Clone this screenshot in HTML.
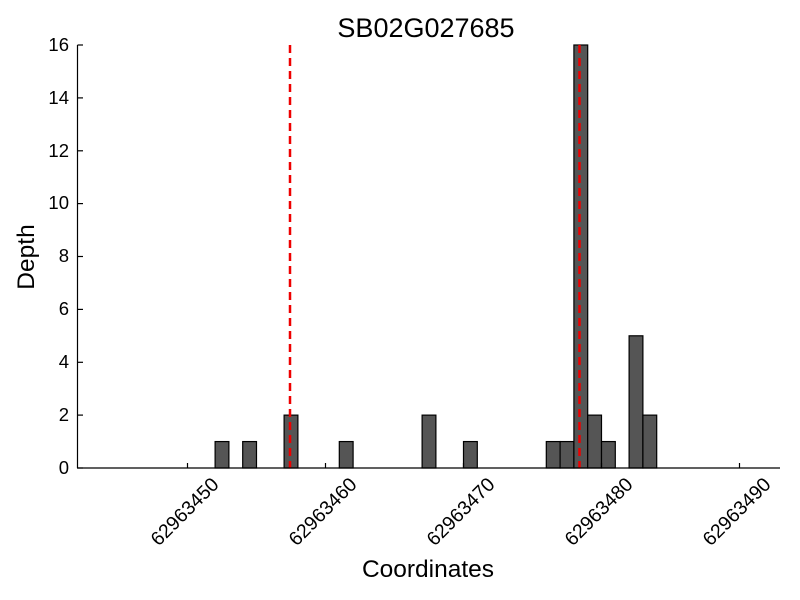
<!DOCTYPE html>
<html><head><style>body{margin:0;background:#fff}svg{display:block}text{font-family:"Liberation Sans",sans-serif;fill:#000}</style></head><body>
<svg width="800" height="600" xmlns="http://www.w3.org/2000/svg">
<rect width="800" height="600" fill="#fff"/>
<g fill="#555" stroke="#000" stroke-width="1.2">
<rect x="215.1" y="441.56" width="13.8" height="26.44"/>
<rect x="242.7" y="441.56" width="13.8" height="26.44"/>
<rect x="284.1" y="415.12" width="13.8" height="52.88"/>
<rect x="339.3" y="441.56" width="13.8" height="26.44"/>
<rect x="422.1" y="415.12" width="13.8" height="52.88"/>
<rect x="463.5" y="441.56" width="13.8" height="26.44"/>
<rect x="546.3" y="441.56" width="13.8" height="26.44"/>
<rect x="560.1" y="441.56" width="13.8" height="26.44"/>
<rect x="573.9" y="45" width="13.8" height="423"/>
<rect x="587.7" y="415.12" width="13.8" height="52.88"/>
<rect x="601.5" y="441.56" width="13.8" height="26.44"/>
<rect x="629.1" y="335.8" width="13.8" height="132.2"/>
<rect x="642.9" y="415.12" width="13.8" height="52.88"/>
</g>
<g stroke="#e00" stroke-width="2.5" stroke-dasharray="8,5">
<line x1="290" y1="45" x2="290" y2="468"/>
<line x1="579.5" y1="45" x2="579.5" y2="468"/>
</g>
<g stroke="#000" stroke-width="1.2">
<line x1="77.5" y1="45" x2="77.5" y2="468"/>
<line x1="77" y1="468" x2="780" y2="468"/>
<line x1="77.5" y1="468" x2="83" y2="468"/><line x1="77.5" y1="415.1" x2="83" y2="415.1"/><line x1="77.5" y1="362.3" x2="83" y2="362.3"/><line x1="77.5" y1="309.4" x2="83" y2="309.4"/><line x1="77.5" y1="256.5" x2="83" y2="256.5"/><line x1="77.5" y1="203.6" x2="83" y2="203.6"/><line x1="77.5" y1="150.8" x2="83" y2="150.8"/><line x1="77.5" y1="97.9" x2="83" y2="97.9"/><line x1="77.5" y1="45" x2="83" y2="45"/>
<line x1="187.5" y1="468" x2="187.5" y2="463"/><line x1="325.5" y1="468" x2="325.5" y2="463"/><line x1="463.5" y1="468" x2="463.5" y2="463"/><line x1="601.5" y1="468" x2="601.5" y2="463"/><line x1="739.5" y1="468" x2="739.5" y2="463"/>
</g>
<g font-size="18.5" text-anchor="end">
<text x="69" y="474">0</text><text x="69" y="421">2</text><text x="69" y="368">4</text><text x="69" y="315">6</text><text x="69" y="262">8</text><text x="69" y="209">10</text><text x="69" y="157">12</text><text x="69" y="104">14</text><text x="69" y="51">16</text>
</g>
<g font-size="19.5" text-anchor="middle" dominant-baseline="central">
<text transform="translate(185,512) rotate(-45)">62963450</text>
<text transform="translate(323,512) rotate(-45)">62963460</text>
<text transform="translate(461,512) rotate(-45)">62963470</text>
<text transform="translate(599,512) rotate(-45)">62963480</text>
<text transform="translate(737,512) rotate(-45)">62963490</text>
</g>
<text x="428" y="577" font-size="24.5" text-anchor="middle">Coordinates</text>
<text transform="translate(34,257) rotate(-90)" font-size="24.5" text-anchor="middle">Depth</text>
<text x="426" y="37" font-size="27" text-anchor="middle">SB02G027685</text>
</svg>
</body></html>
